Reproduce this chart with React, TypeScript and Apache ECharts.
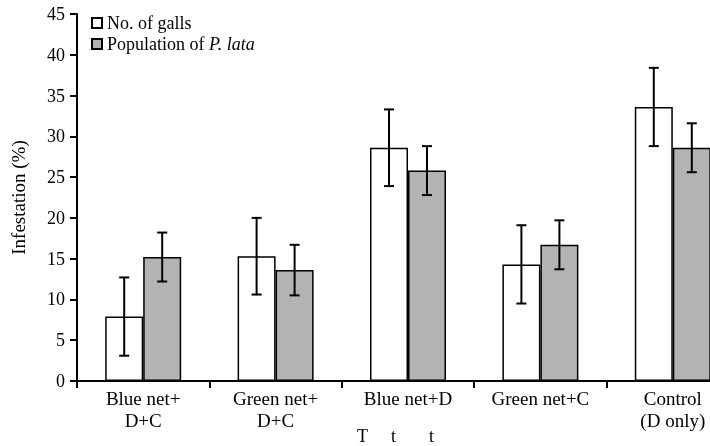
import React, { useEffect, useRef } from "react";
import * as echarts from "echarts";

const categories = ["Blue net+\nD+C", "Green net+\nD+C", "Blue net+D", "Green net+C", "Control\n(D only)"];
const gallsMean = [7.9, 15.3, 28.6, 14.3, 33.6];
const gallsErr = [4.8, 4.7, 4.7, 4.8, 4.8];
const popMean = [15.2, 13.6, 25.8, 16.7, 28.6];
const popErr = [3.0, 3.1, 3.0, 3.0, 3.0];
const yTicks = { min: 0, max: 45, interval: 5 };

const FONT = "'Liberation Serif', 'Times New Roman', 'DejaVu Serif', serif";
const BAR_W = 38;

export default function App() {
  const ref = useRef<HTMLDivElement>(null);
  useEffect(() => {
    if (!ref.current) return;
    const chart = echarts.init(ref.current, null, { renderer: "svg" });
    const errRender = (offset: number) => (params: any, api: any) => {
      const x = api.value(0);
      const m = api.value(1);
      const e = api.value(2);
      const hi = api.coord([x, m + e]);
      const lo = api.coord([x, m - e]);
      const cx = hi[0] + offset;
      const cap = 5;
      const style = { stroke: "#000", lineWidth: 2 };
      return {
        type: "group",
        children: [
          { type: "line", shape: { x1: cx, y1: hi[1], x2: cx, y2: lo[1] }, style },
          { type: "line", shape: { x1: cx - cap, y1: hi[1], x2: cx + cap, y2: hi[1] }, style },
          { type: "line", shape: { x1: cx - cap, y1: lo[1], x2: cx + cap, y2: lo[1] }, style },
        ],
      };
    };
    chart.setOption({
      animation: false,
      textStyle: { fontFamily: FONT, color: "#000" },
      grid: { left: 77, right: 0, top: 14, bottom: 65, containLabel: false },
      legend: {
        orient: "vertical",
        left: 86,
        top: 9,
        itemWidth: 10,
        itemHeight: 10,
        itemGap: 3,
        icon: "rect",
        data: ["No. of galls", "Population of P. lata"],
        formatter: (name: string) =>
          name === "Population of P. lata" ? "Population of {i|P. lata}" : name,
        textStyle: {
          fontFamily: FONT,
          fontSize: 18,
          lineHeight: 18,
          color: "#000",
          padding: [0, 0, 0, 0],
          rich: { i: { fontFamily: FONT, fontSize: 18, lineHeight: 18, fontStyle: "italic", color: "#000" } },
        },
      },
      xAxis: {
        type: "category",
        data: categories,
        axisLine: { lineStyle: { color: "#000", width: 2 } },
        axisTick: { show: true, length: 7, lineStyle: { color: "#000", width: 2 } },
        axisLabel: { interval: 0, fontSize: 19, color: "#000", fontFamily: FONT, lineHeight: 22, margin: 6 },
      },
      yAxis: {
        type: "value",
        min: yTicks.min,
        max: yTicks.max,
        interval: yTicks.interval,
        name: "Infestation (%)",
        nameLocation: "middle",
        nameGap: 49,
        nameTextStyle: { fontSize: 19, color: "#000", fontFamily: FONT },
        splitLine: { show: false },
        axisLine: { show: true, lineStyle: { color: "#000", width: 2 } },
        axisTick: { show: true, length: 7, lineStyle: { color: "#000", width: 2 } },
        axisLabel: { fontSize: 18, color: "#000", fontFamily: FONT, margin: 12 },
      },
      series: [
        {
          name: "No. of galls",
          type: "bar",
          data: gallsMean,
          barWidth: BAR_W,
          barGap: "0%",
          itemStyle: { color: "#ffffff", borderColor: "#000", borderWidth: 1.5 },
        },
        {
          name: "Population of P. lata",
          type: "bar",
          data: popMean,
          barWidth: BAR_W,
          barGap: "0%",
          itemStyle: { color: "#b3b3b3", borderColor: "#000", borderWidth: 1.5 },
        },
        {
          type: "custom",
          name: "errGalls",
          renderItem: errRender(-BAR_W / 2),
          data: gallsMean.map((m, i) => [i, m, gallsErr[i]]),
          z: 5,
        },
        {
          type: "custom",
          name: "errPop",
          renderItem: errRender(BAR_W / 2),
          data: popMean.map((m, i) => [i, m, popErr[i]]),
          z: 5,
        },
      ],
      graphic: [
        { type: "text", left: 357, top: 427, style: { text: "T", fontFamily: FONT, fontSize: 18, fill: "#000" } },
        { type: "text", left: 391, top: 427, style: { text: "t", fontFamily: FONT, fontSize: 18, fill: "#000" } },
        { type: "text", left: 429, top: 427, style: { text: "t", fontFamily: FONT, fontSize: 18, fill: "#000" } },
      ],
    });
    return () => chart.dispose();
  }, []);
  return (
    <div style={{ position: "fixed", left: 0, top: 0, width: 710, height: 446, overflow: "hidden" }}>
      <div ref={ref} style={{ width: 739, height: 446 }} />
    </div>
  );
}
